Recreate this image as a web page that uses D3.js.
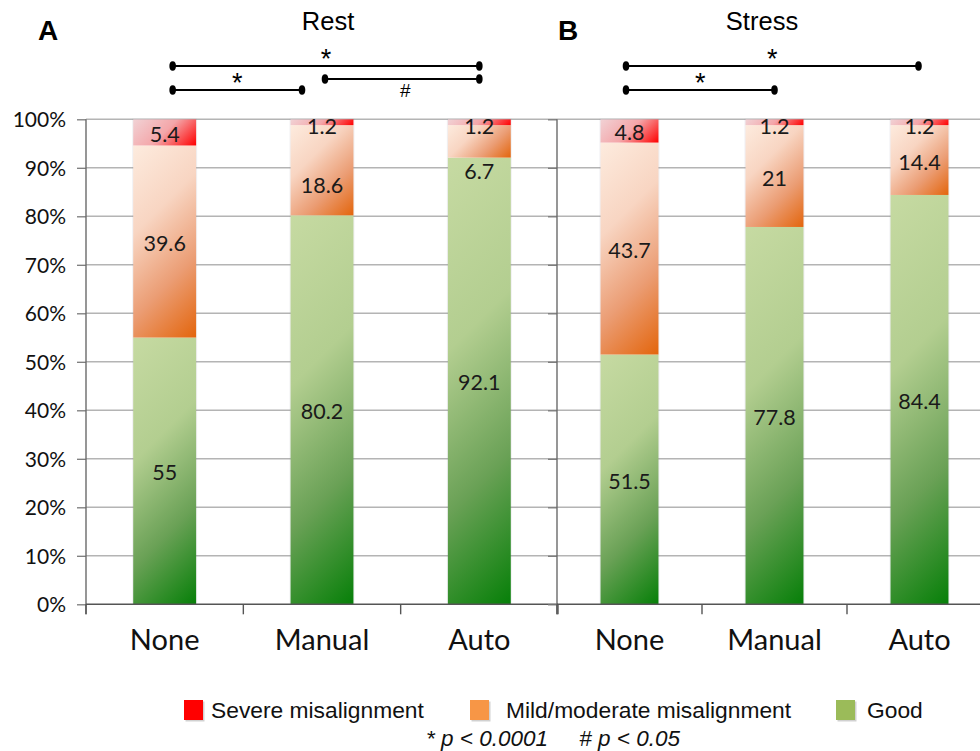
<!DOCTYPE html>
<html>
<head>
<meta charset="utf-8">
<script src="https://cdn.jsdelivr.net/npm/d3@7"></script>
<style>
  body { margin: 0; background: #fff; }
  svg { display: block; }
</style>
</head>
<body>
<svg id="chart" width="980" height="751"></svg>
<script>
// ---- data -------------------------------------------------------------
const categories = ["None", "Manual", "Auto"];

const restGood   = [55, 80.2, 92.1];
const restMild   = [39.6, 18.6, 6.7];
const restSevere = [5.4, 1.2, 1.2];

const stressGood   = [51.5, 77.8, 84.4];
const stressMild   = [43.7, 21, 14.4];
const stressSevere = [4.8, 1.2, 1.2];

const yTickValues = [0, 10, 20, 30, 40, 50, 60, 70, 80, 90, 100];
const yTickLabels = ["0%", "10%", "20%", "30%", "40%", "50%", "60%", "70%", "80%", "90%", "100%"];

const seriesKeys   = ["severe", "mild", "good"];
const seriesLabels = ["Severe misalignment", "Mild/moderate misalignment", "Good"];

const restComparisons   = [["None", "Auto", "*"], ["None", "Manual", "*"], ["Manual", "Auto", "#"]];
const stressComparisons = [["None", "Auto", "*"], ["None", "Manual", "*"]];

const pValueNote = "* p < 0.0001     # p < 0.05";

// ---- styling ----------------------------------------------------------
const legendColors = { severe: "#ff0000", mild: "#f79646", good: "#9bbb59" };
const gradientStops = {
  good:   [[0, "#c6daa2"], [0.38, "#b3ce90"], [0.7, "#6aa156"], [1, "#067f08"]],
  mild:   [[0, "#fdebde"], [0.35, "#f8d5c2"], [0.68, "#eb9d74"], [1, "#e3650c"]],
  severe: [[0, "#f1d2d5"], [0.5, "#f4a6a9"], [1, "#ff0000"]]
};

const svg = d3.select("#chart");
const defs = svg.append("defs");

const plotTop = 119.3, plotBottom = 604.3;

function rows(good, mild, severe) {
  return categories.map((c, i) => ({ cat: c, good: good[i], mild: mild[i], severe: severe[i] }));
}

const panels = [
  { name: "Rest",   letter: "A", letterX: 38,  titleX: 328, x0: 86,  x1: 558,
    data: rows(restGood, restMild, restSevere), comps: restComparisons,
    showTickLabels: true, gridRight: 557,
    // bracket geometry: [level y, left offset, right offset, label placement]
    brackets: [[66, 8, 0, "above"], [90, 8, -20, "above"], [79, 3, 0, "below"]],
    labelNudge: { "Manual-mild": 13, "Auto-mild": 28 } },
  { name: "Stress", letter: "B", letterX: 558, titleX: 762, x0: 557, x1: 992,
    data: rows(stressGood, stressMild, stressSevere), comps: stressComparisons,
    showTickLabels: false, gridRight: 980,
    brackets: [[66, -3.5, -1, "above"], [90, -3.5, 0, "above"]],
    labelNudge: {} }
];

let gradId = 0;
function gradientFor(key, x, y, w, h) {
  // 45-degree gradient spanning the segment from top-left to bottom-right
  const id = "g" + (gradId++);
  const d = (w + h) / 2;
  const g = defs.append("linearGradient")
    .attr("id", id).attr("gradientUnits", "userSpaceOnUse")
    .attr("x1", x).attr("y1", y).attr("x2", x + d).attr("y2", y + d);
  gradientStops[key].forEach(([o, c]) => g.append("stop").attr("offset", o).attr("stop-color", c));
  return "url(#" + id + ")";
}

panels.forEach((p, pi) => {
  const x = d3.scaleBand().domain(categories).range([p.x0, p.x1])
    .paddingInner(0.6).paddingOuter(0.3);
  const y = d3.scaleLinear().domain([0, 100]).range([plotBottom, plotTop]);
  const g = svg.append("g");

  // gridlines
  g.append("g").selectAll("line").data(yTickValues.filter(v => v > 0)).join("line")
    .attr("x1", p.x0).attr("x2", p.gridRight)
    .attr("y1", d => y(d)).attr("y2", d => y(d))
    .attr("stroke", "#b4b4b4").attr("stroke-width", 1.4);

  // y axis
  const yAxis = d3.axisLeft(y).tickValues(yTickValues).tickSize(9)
    .tickFormat((d, i) => p.showTickLabels ? yTickLabels[i] : "");
  const ya = g.append("g").attr("transform", `translate(${p.x0},0)`).call(yAxis);
  ya.select(".domain").remove();
  ya.selectAll(".tick line").attr("stroke", "#7a7a7a").attr("stroke-width", 1.3);
  ya.selectAll(".tick text").attr("x", -20).attr("dy", "0.36em")
    .attr("font-family", "Lato, 'Open Sans', sans-serif").attr("font-size", 21).attr("fill", "#111");
  g.append("line").attr("x1", p.x0).attr("x2", p.x0)
    .attr("y1", plotTop).attr("y2", plotBottom + 10)
    .attr("stroke", "#6a6a6a").attr("stroke-width", 1.4);

  // stacked bars
  const stack = d3.stack().keys(["good", "mild", "severe"]);
  const layers = stack(p.data);
  const bw = x.bandwidth();
  layers.forEach(layer => {
    const key = layer.key;
    layer.forEach(seg => {
      const cat = seg.data.cat;
      const rx = x(cat), ry = y(seg[1]), rh = y(seg[0]) - y(seg[1]);
      g.append("rect").attr("x", rx).attr("y", ry).attr("width", bw).attr("height", rh)
        .attr("fill", gradientFor(key, rx, ry, bw, rh));
    });
  });
  // faint bar outline
  p.data.forEach(d => {
    g.append("rect").attr("x", x(d.cat) - 0.5).attr("y", y(100)).attr("width", bw + 1)
      .attr("height", y(0) - y(100)).attr("fill", "none")
      .attr("stroke", "rgba(120,120,150,0.12)").attr("stroke-width", 1);
  });

  // value labels
  layers.forEach(layer => {
    layer.forEach(seg => {
      const v = seg.data[layer.key];
      const nudge = (p.labelNudge[seg.data.cat + "-" + layer.key] || 0) + (v < 2 ? 4 : 2);
      g.append("text")
        .attr("x", x(seg.data.cat) + bw / 2)
        .attr("y", (y(seg[0]) + y(seg[1])) / 2 + nudge)
        .attr("dy", "0.35em").attr("text-anchor", "middle")
        .attr("font-family", "Lato, 'Open Sans', sans-serif").attr("font-size", 21.5)
        .attr("fill", "#1a1a1a").text(v);
    });
  });

  // x axis
  g.append("line").attr("x1", p.x0).attr("x2", Math.min(p.x1, 980))
    .attr("y1", plotBottom).attr("y2", plotBottom)
    .attr("stroke", "#555").attr("stroke-width", 1.5);
  const step = x.step();
  d3.range(0, 4).forEach(i => {
    const tx = p.x0 + i * step;
    if (tx > 980) return;
    g.append("line").attr("x1", tx).attr("x2", tx).attr("y1", plotBottom).attr("y2", plotBottom + 10)
      .attr("stroke", "#555").attr("stroke-width", 1.4);
  });
  g.selectAll(".cat").data(categories).join("text")
    .attr("x", d => x(d) + bw / 2).attr("y", 650)
    .attr("text-anchor", "middle")
    .attr("font-family", "Lato, 'Open Sans', sans-serif").attr("font-size", 29)
    .attr("fill", "#111").text(d => d);

  // panel letter and title
  g.append("text").attr("x", p.letterX).attr("y", 40)
    .attr("font-family", "'Liberation Sans', Arial, sans-serif").attr("font-weight", "bold")
    .attr("font-size", 28).attr("fill", "#000").text(p.letter);
  g.append("text").attr("x", p.titleX).attr("y", 30).attr("text-anchor", "middle")
    .attr("font-family", "'Liberation Sans', Arial, sans-serif")
    .attr("font-size", 25.5).attr("fill", "#000").text(p.name);

  // significance brackets
  p.comps.forEach(([a, b, mark], i) => {
    const [ly, offL, offR, place] = p.brackets[i];
    const xa = x(a) + bw / 2 + offL, xb = x(b) + bw / 2 + offR;
    g.append("line").attr("x1", xa).attr("x2", xb).attr("y1", ly).attr("y2", ly)
      .attr("stroke", "#000").attr("stroke-width", 2);
    [xa, xb].forEach(cx => g.append("ellipse").attr("cx", cx).attr("cy", ly)
      .attr("rx", 3.3).attr("ry", 4.8).attr("fill", "#000"));
    const mx = (xa + xb) / 2;
    if (mark === "*") {
      g.append("text").attr("x", mx).attr("y", place === "above" ? ly + 2 : ly + 28)
        .attr("text-anchor", "middle").attr("font-family", "'Liberation Sans', Arial, sans-serif")
        .attr("font-size", 27).attr("fill", "#000").text(mark);
    } else {
      g.append("text").attr("x", mx + 3).attr("y", ly + 18)
        .attr("text-anchor", "middle").attr("font-family", "'Liberation Sans', Arial, sans-serif")
        .attr("font-size", 19).attr("fill", "#000").text(mark);
    }
  });
});

// ---- legend -----------------------------------------------------------
const legendX = [184, 470, 836];
const legendTextGap = [27, 36, 31];
const legend = svg.append("g");
seriesKeys.forEach((k, i) => {
  legend.append("rect").attr("x", legendX[i] + 1.5).attr("y", 701.5).attr("width", 19).attr("height", 20)
    .attr("fill", "rgba(0,0,0,0.18)");
  legend.append("rect").attr("x", legendX[i]).attr("y", 700).attr("width", 19).attr("height", 20)
    .attr("fill", legendColors[k]);
  legend.append("text").attr("x", legendX[i] + legendTextGap[i]).attr("y", 718)
    .attr("font-family", "'Liberation Sans', Arial, sans-serif").attr("font-size", 22.8)
    .attr("fill", "#111").text(seriesLabels[i]);
});
svg.append("text").attr("x", 553).attr("y", 746).attr("text-anchor", "middle")
  .attr("font-family", "'Liberation Sans', Arial, sans-serif").attr("font-style", "italic")
  .attr("font-size", 22.5).attr("fill", "#111").attr("xml:space", "preserve")
  .style("white-space", "pre").text(pValueNote);
</script>
</body>
</html>
